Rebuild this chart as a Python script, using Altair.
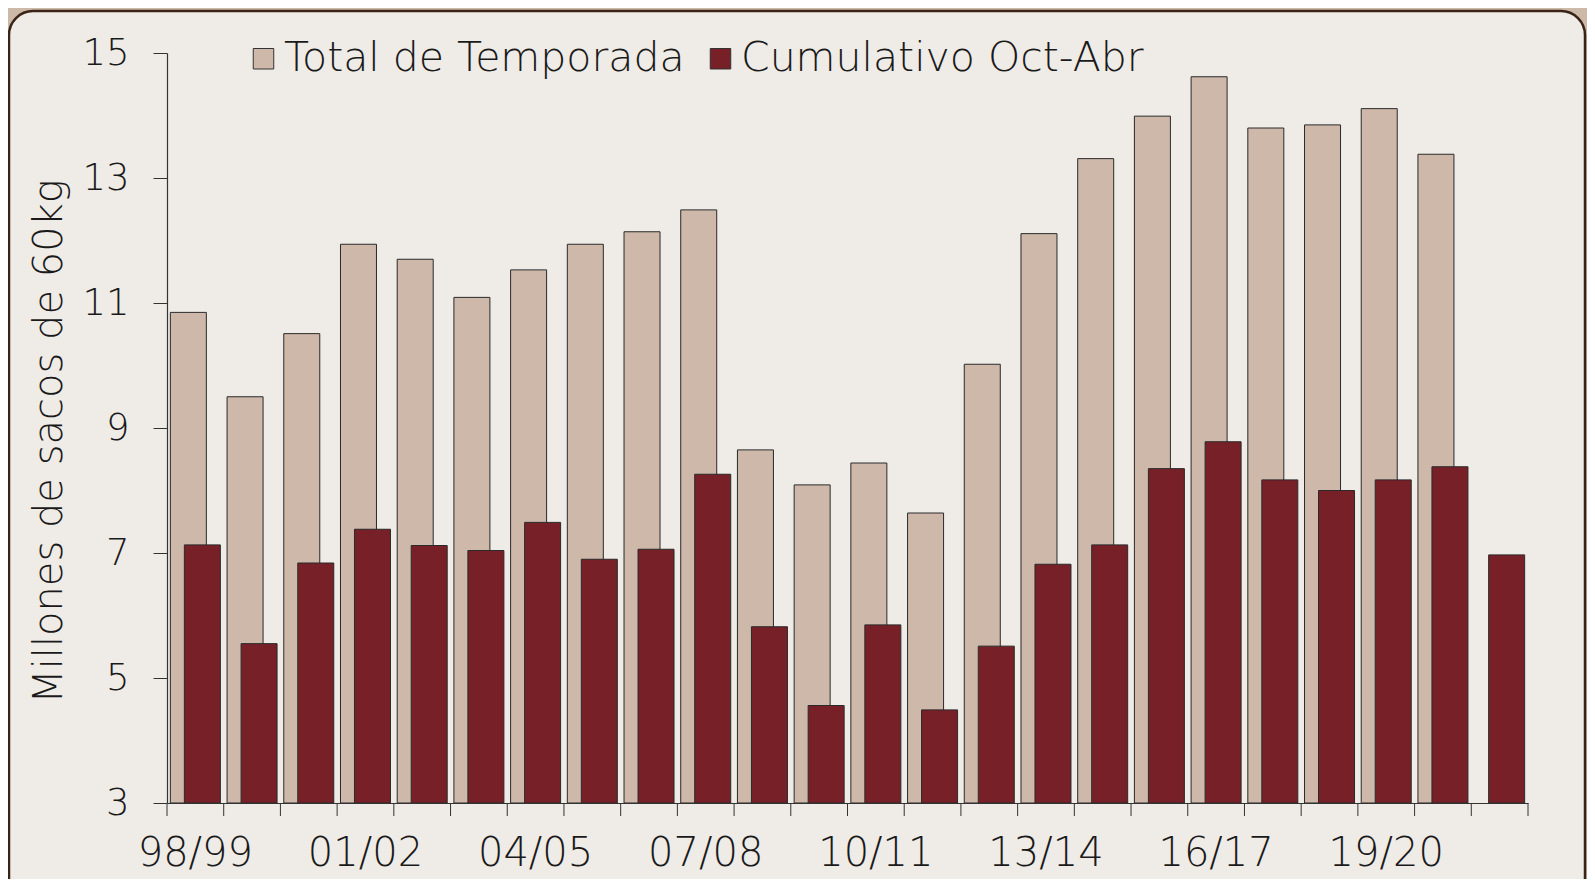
import altair as alt
import pandas as pd

seasons = ["98/99", "99/00", "00/01", "01/02", "02/03", "03/04", "04/05", "05/06",
           "06/07", "07/08", "08/09", "09/10", "10/11", "11/12", "12/13", "13/14",
           "14/15", "15/16", "16/17", "17/18", "18/19", "19/20", "20/21", "21/22"]
total = [10.85, 9.50, 10.51, 11.94, 11.70, 11.09, 11.53, 11.94, 12.14, 12.49, 8.65, 8.09,
         8.44, 7.64, 10.02, 12.11, 13.31, 13.99, 14.62, 13.80, 13.85, 14.11, 13.38, None]
cumul = [7.13, 5.55, 6.84, 7.38, 7.12, 7.04, 7.49, 6.90, 7.06, 8.26, 5.82, 4.56,
         5.85, 4.49, 5.51, 6.82, 7.13, 8.35, 8.78, 8.17, 8.00, 8.17, 8.38, 6.97]
shown_labels = ["98/99", "01/02", "04/05", "07/08", "10/11", "13/14", "16/17", "19/20"]
series_names = ["Total de Temporada", "Cumulativo Oct-Abr"]
y_ticks = [3, 5, 7, 9, 11, 13, 15]

rows = []
for s, t, c in zip(seasons, total, cumul):
    if t is not None:
        rows.append({"season": s, "series": series_names[0], "value": t})
    rows.append({"season": s, "series": series_names[1], "value": c})
df = pd.DataFrame(rows)
df_seasons = pd.DataFrame({"season": seasons})

FONT = "DejaVu Sans"
FW = 200
W, H = 1361, 750
PAD_L, PAD_T, PAD_R, PAD_B = 159, 45, 59, 76

x_axis = alt.Axis(values=shown_labels, ticks=False, labelFontSize=40, labelFont=FONT,
                  labelFontWeight=FW, labelColor="#1a1a1a", labelPadding=30,
                  domainColor="#333333", domainWidth=1.2, labelAngle=0, title=None,
                  grid=False, zindex=1)
x_scale = alt.Scale(domain=seasons, paddingInner=0, paddingOuter=0)

color_scale = alt.Scale(domain=series_names, range=["#CDB8AA", "#772028"])
legend = alt.Legend(title=None, orient="none", legendX=76, legendY=-15, direction="horizontal",
                    symbolType="square", symbolSize=420, symbolStrokeColor="#333333",
                    symbolStrokeWidth=1, labelFontSize=41, labelFont=FONT, labelFontWeight=FW,
                    labelColor="#1a1a1a", columnPadding=15, labelOffset=0, labelLimit=800,
                    zindex=2)

y_enc = alt.Y("value:Q", scale=alt.Scale(domain=[3, 15], zero=False, nice=False),
              axis=alt.Axis(values=y_ticks, tickSize=14, tickColor="#333333", domainColor="#333333",
                            domainWidth=1.2, labelFontSize=37, labelFont=FONT, labelFontWeight=FW,
                            labelColor="#1a1a1a", labelPadding=24, grid=False, zindex=1,
                            title="Millones de sacos de 60kg", titleFontSize=40, titleFont=FONT,
                            titleFontWeight=FW, titleColor="#1a1a1a", titleAngle=-90,
                            titleX=-118, titleY=388, titleAlign="center", titleBaseline="middle"))

# decorative panel frame (rounded border at top/left like the reference)
frame = alt.Chart(pd.DataFrame({"k": [0]})).mark_rect(
    fill="#EFEBE6", stroke="#3A2418", strokeWidth=2.5, cornerRadius=24).encode(
    x=alt.value(-PAD_L + 1), x2=alt.value(W + PAD_R - 2),
    y=alt.value(-PAD_T + 3), y2=alt.value(H + PAD_B + 60))

base = alt.Chart(df)

total_bars = base.transform_filter(alt.datum.series == series_names[0]).mark_bar(
    width=36, xOffset=-7, stroke="#2a2a2a", strokeWidth=1).encode(
    x=alt.X("season:N", scale=x_scale, axis=x_axis, sort=seasons),
    y=y_enc, y2=alt.datum(3),
    color=alt.Color("series:N", scale=color_scale, legend=legend))

cum_bars = base.transform_filter(alt.datum.series == series_names[1]).mark_bar(
    width=36, xOffset=7, stroke="#2a2a2a", strokeWidth=1).encode(
    x=alt.X("season:N", scale=x_scale, axis=x_axis, sort=seasons),
    y=y_enc, y2=alt.datum(3),
    color=alt.Color("series:N", scale=color_scale, legend=legend))

ticks = alt.Chart(df_seasons).mark_rule(color="#333333", strokeWidth=1).encode(
    x=alt.X("season:N", scale=x_scale, axis=x_axis, sort=seasons, bandPosition=0),
    y=alt.value(H), y2=alt.value(H + 13))

end_tick = alt.Chart(pd.DataFrame({"k": [0]})).mark_rule(color="#333333", strokeWidth=1).encode(
    x=alt.value(W), y=alt.value(H), y2=alt.value(H + 13))

chart = alt.layer(frame, total_bars, cum_bars, ticks, end_tick).properties(
    width=W, height=H,
    padding={"left": PAD_L, "top": PAD_T, "right": PAD_R, "bottom": PAD_B},
    autosize=alt.AutoSizeParams(type="none"),
    background="#CDB9A8",
).configure_view(stroke=None)

chart.save("out.html", embed_options={"renderer": "svg", "actions": False})
